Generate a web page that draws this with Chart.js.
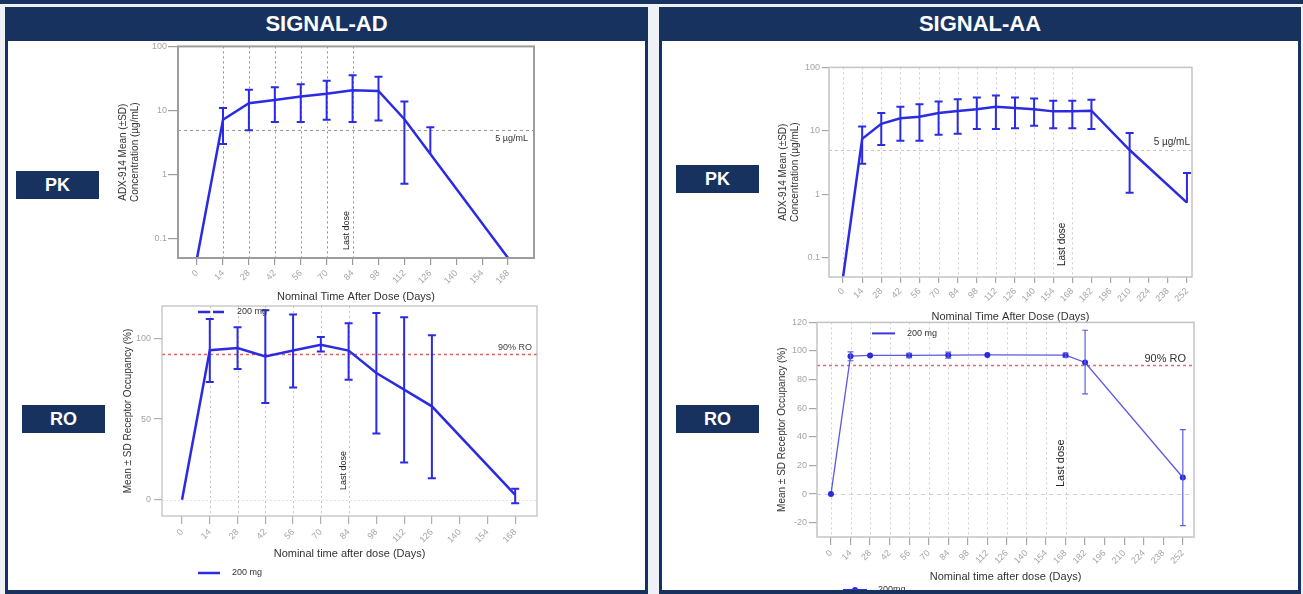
<!DOCTYPE html>
<html>
<head>
<meta charset="utf-8">
<title>SIGNAL-AD / SIGNAL-AA — PK and RO</title>
<script src="https://cdn.jsdelivr.net/npm/chart.js@4.4.1/dist/chart.umd.min.js"></script>
<style>
  html, body { margin: 0; padding: 0; }
  body { width: 1303px; height: 594px; overflow: hidden; position: relative; background: #eef2f7; font-family: "Liberation Sans", Arial, sans-serif; }
  .strip { position: absolute; left: 0; top: 0; width: 1303px; height: 4px; background: #17325f; }
  .panel { position: absolute; top: 7px; height: 600px; background: #17325f; }
  .panel .hd { height: 33px; line-height: 33px; color: #fff; font-weight: bold; font-size: 22px; text-align: center; }
  .panel .bd { position: absolute; left: 3px; right: 3px; top: 34px; height: 549px; background: #fff; }
  .tag { position: absolute; width: 83px; height: 28px; line-height: 28px; background: #17325f; color: #fff; font-weight: bold; font-size: 18px; text-align: center; }
  canvas { position: absolute; }
</style>
</head>
<body>
<div class="strip"></div>
<div class="panel" style="left:5px;width:643px"><div class="hd">SIGNAL-AD</div><div class="bd"></div></div>
<div class="panel" style="left:659px;width:642px"><div class="hd">SIGNAL-AA</div><div class="bd"></div></div>
<div class="tag" style="left:16px;top:171px">PK</div>
<div class="tag" style="left:22px;top:405px">RO</div>
<div class="tag" style="left:676px;top:165px">PK</div>
<div class="tag" style="left:676px;top:405px">RO</div>
<canvas id="adPk" width="450" height="268" style="left:110px;top:40px;width:450px;height:268px"></canvas>
<canvas id="adRo" width="450" height="294" style="left:110px;top:296px;width:450px;height:294px"></canvas>
<canvas id="aaPk" width="450" height="268" style="left:765px;top:60px;width:450px;height:268px"></canvas>
<canvas id="aaRo" width="450" height="275" style="left:765px;top:315px;width:450px;height:275px"></canvas>
<script>
const F = '"Liberation Sans", Arial, sans-serif';
Chart.defaults.font.family = F;
Chart.defaults.animation = false;

// ---- tick labels
const adXTicks = [0, 14, 28, 42, 56, 70, 84, 98, 112, 126, 140, 154, 168];
const aaXTicks = [0, 14, 28, 42, 56, 70, 84, 98, 112, 126, 140, 154, 168, 182, 196, 210, 224, 238, 252];
const pkYTicks = [0.1, 1, 10, 100];
const adRoYTicks = [0, 50, 100];
const aaRoYTicks = [-20, 0, 20, 40, 60, 80, 100, 120];

// ---- SIGNAL-AD PK (ug/mL, mean +/- SD)
const adPkDays = [0, 14, 28, 42, 56, 70, 84, 98, 112, 126, 168];
const adPkMean = [0.05, 7.2, 13, 14.6, 16.5, 18.2, 20.7, 20.2, 7.3, 2.1, 0.05];
const adPkLow  = [null, 3.0, 4.9, 6.6, 6.6, 7.2, 6.6, 7.0, 0.72, null, null];
const adPkHigh = [null, 10.9, 21, 23, 25.6, 29, 35.4, 33.7, 13.8, 5.5, null];

// ---- SIGNAL-AD RO (%)
const adRoDays = [0, 14, 28, 42, 56, 70, 84, 98, 112, 126, 168];
const adRoMean = [0, 92.6, 94, 88.8, 92.4, 96, 92.4, 78.5, 68.2, 57.9, 3.1];
const adRoLow  = [null, 72.9, 81, 59.9, 69.6, 91.9, 74.4, 41.1, 23.1, 13.4, -2.1];
const adRoHigh = [null, 112, 106.8, 117.4, 114.7, 100.8, 109.3, 115.7, 113, 101.9, 6.8];

// ---- SIGNAL-AA PK
const aaPkDays = [0, 14, 28, 42, 56, 70, 84, 98, 112, 126, 140, 154, 168, 182, 210, 252];
const aaPkMean = [0.05, 7.5, 12.9, 15.8, 16.7, 19.1, 20.5, 22, 24, 22.9, 22, 20.3, 20.3, 20.8, 5.0, 0.74];
const aaPkLow  = [null, 3.05, 6.0, 7.0, 7.0, 8.7, 9.0, 10.7, 10.7, 11, 12.1, 11, 11, 10.7, 1.06, null];
const aaPkHigh = [null, 11.7, 19.1, 24, 26.4, 29.1, 31.6, 33.6, 36, 33.6, 32.4, 29.8, 29.8, 30.9, 9.3, 2.18];

// ---- SIGNAL-AA RO
const aaRoDays = [0, 14, 28, 56, 84, 112, 168, 182, 252];
const aaRoMean = [0, 96.4, 96.9, 96.9, 97.1, 97.3, 97.1, 92.0, 11.6];
const aaRoLow  = [null, 93.2, null, 95.4, 95, null, 95.6, 70, -22];
const aaRoHigh = [null, 99.4, null, 98.4, 99.2, null, 98.6, 114.5, 45.1];

// ---- reference lines
const adGuides = [14, 28, 42, 56, 70, 84];
const aaGuides = [0, 14, 28, 42, 56, 70, 84, 98, 112, 126, 140, 154, 168];
const pkTarget = 5;
const roTarget = 90;
const adLastDose = 84;
const aaLastDose = 168;
const dose = '200 mg';

// draws guides, threshold lines, error bars, frame, notes and legends
function deco(o) {
  return {
    id: 'deco',
    beforeDatasetsDraw(chart) {
      const { ctx, chartArea: a } = chart;
      const x = chart.scales.x, y = chart.scales.y;
      ctx.save();
      ctx.beginPath(); ctx.rect(a.left, a.top, a.width, a.height); ctx.clip();
      const g = o.guides;
      ctx.strokeStyle = g.color; ctx.lineWidth = g.width; ctx.setLineDash(g.dash);
      g.at.forEach((v) => {
        const px = Math.round(x.getPixelForValue(v)) + 0.5;
        ctx.beginPath(); ctx.moveTo(px, a.top); ctx.lineTo(px, a.bottom); ctx.stroke();
      });
      o.hLines.forEach((h) => {
        const py = Math.round(y.getPixelForValue(h.at)) + 0.5;
        ctx.strokeStyle = h.color; ctx.lineWidth = h.width; ctx.setLineDash(h.dash);
        ctx.beginPath(); ctx.moveTo(a.left, py); ctx.lineTo(a.right, py); ctx.stroke();
      });
      ctx.restore();
    },
    afterDatasetsDraw(chart) {
      const { ctx, chartArea: a } = chart;
      const x = chart.scales.x, y = chart.scales.y;
      const e = o.err;
      ctx.save();
      ctx.beginPath(); ctx.rect(a.left, a.top - 1, a.width, a.height + 2); ctx.clip();
      ctx.strokeStyle = e.color; ctx.lineWidth = e.width; ctx.setLineDash([]);
      chart.data.datasets.forEach((ds) => {
        ds.data.forEach((p, i) => {
          const hi = ds.errHigh[i];
          if (hi == null) return;
          const lo = ds.errLow[i];
          const px = x.getPixelForValue(p.x);
          const yh = y.getPixelForValue(hi);
          const yl = y.getPixelForValue(lo == null ? p.y : lo);
          ctx.beginPath();
          ctx.moveTo(px, yh); ctx.lineTo(px, yl);
          ctx.moveTo(px - e.cap, yh); ctx.lineTo(px + e.cap, yh);
          if (lo != null) { ctx.moveTo(px - e.cap, yl); ctx.lineTo(px + e.cap, yl); }
          ctx.stroke();
        });
      });
      ctx.restore();

      ctx.save();
      ctx.strokeStyle = o.frame.color; ctx.lineWidth = o.frame.width;
      ctx.strokeRect(a.left, a.top, a.width, a.height);
      ctx.textAlign = 'right'; ctx.textBaseline = 'middle';
      o.hLines.forEach((h) => {
        if (!h.label) return;
        ctx.font = h.label.font; ctx.fillStyle = h.label.color;
        ctx.fillText(h.label.text, a.right - h.label.dx, y.getPixelForValue(h.at) + h.label.dy);
      });
      const l = o.lastDose;
      ctx.save();
      ctx.translate(x.getPixelForValue(l.at) + l.dx, a.bottom - l.up);
      ctx.rotate(-Math.PI / 2);
      ctx.font = l.font; ctx.fillStyle = '#222'; ctx.textAlign = 'left';
      ctx.fillText('Last dose', 0, 0);
      ctx.restore();
      o.legends.forEach((g) => {
        const py = (g.from === 'top' ? a.top : a.bottom) + g.dy;
        ctx.strokeStyle = g.color; ctx.lineWidth = g.width; ctx.setLineDash(g.dash || []);
        ctx.beginPath(); ctx.moveTo(a.left + g.x0, py); ctx.lineTo(a.left + g.x1, py); ctx.stroke();
        ctx.setLineDash([]);
        if (g.marker) {
          ctx.fillStyle = g.color;
          ctx.beginPath(); ctx.arc(a.left + (g.x0 + g.x1) / 2, py, g.marker, 0, Math.PI * 2); ctx.fill();
        }
        ctx.font = g.font; ctx.fillStyle = '#333'; ctx.textAlign = 'left';
        ctx.fillText(g.text, a.left + g.tx, py);
      });
      ctx.restore();
    },
  };
}

function makeChart(id, c) {
  return new Chart(document.getElementById(id), {
    type: 'line',
    data: {
      datasets: [{
        data: c.days.map((d, i) => ({ x: d, y: c.mean[i] })),
        errLow: c.low,
        errHigh: c.high,
        borderColor: c.line.color,
        borderWidth: c.line.width,
        pointRadius: c.line.radius,
        pointBackgroundColor: c.line.point || c.line.color,
        pointBorderWidth: 0,
        tension: 0,
        fill: false,
      }],
    },
    options: {
      responsive: false,
      animation: false,
      events: [],
      layout: { padding: { left: 0, top: c.pad.top, right: c.pad.right, bottom: 0 } },
      plugins: { legend: { display: false }, tooltip: { enabled: false } },
      scales: {
        x: {
          type: 'linear', min: c.x.min, max: c.x.max,
          afterBuildTicks: (s) => { s.ticks = c.x.ticks.map((v) => ({ value: v })); },
          afterFit: (s) => { s.height = c.x.height; },
          grid: { drawOnChartArea: false, drawTicks: true, tickLength: c.x.tickLen, color: c.tickColor, lineWidth: 1.2 },
          border: { display: false },
          ticks: { autoSkip: false, minRotation: 45, maxRotation: 45, padding: 3, color: '#a5a5a5', font: { size: 9 } },
          title: { display: true, text: 'Nominal ' + c.x.title, color: '#333', font: { size: 11 }, padding: { top: 0, bottom: c.x.titlePad } },
        },
        y: {
          type: c.y.type, min: c.y.min, max: c.y.max,
          afterBuildTicks: (s) => { s.ticks = c.y.ticks.map((v) => ({ value: v })); },
          afterFit: (s) => { s.width = c.y.width; },
          grid: { drawOnChartArea: false, drawTicks: true, tickLength: c.y.tickLen, color: c.tickColor, lineWidth: 1.2 },
          border: { display: false },
          ticks: { padding: c.y.gap, color: '#a5a5a5', font: { size: 9 }, callback: (v) => String(v) },
          title: { display: true, text: c.y.title, color: '#333', font: { size: 10 }, padding: { top: c.y.titlePad, bottom: 0 } },
        },
      },
    },
    plugins: [deco(c.deco)],
  });
}

const blue = '#2b2be3';
const pkTitle = ['ADX-914 Mean (±SD)', 'Concentration (µg/mL)'];
const roTitle = 'Mean ± SD Receptor Occupancy (%)';

makeChart('adPk', {
  days: adPkDays, mean: adPkMean, low: adPkLow, high: adPkHigh,
  line: { color: blue, width: 2.5, radius: 0 },
  pad: { top: 6, right: 26 },
  tickColor: '#9a9a9a',
  x: { min: -10.3, max: 182, ticks: adXTicks, height: 50, tickLen: 7, title: 'Time After Dose (Days)', titlePad: 4 },
  y: { type: 'logarithmic', min: 0.05, max: 100, ticks: pkYTicks, width: 68, tickLen: 10, gap: 1, title: pkTitle, titlePad: 7 },
  deco: {
    guides: { at: adGuides, color: '#8c8c8c', width: 1, dash: [2, 3] },
    hLines: [{ at: pkTarget, color: '#9a9a9a', width: 1, dash: [3, 3], label: { text: '5 µg/mL', dx: 6, dy: 9, font: '9px ' + F, color: '#333' } }],
    lastDose: { at: adLastDose, dx: -6, up: 8, font: '9px ' + F },
    frame: { color: '#9d9d9d', width: 2 },
    err: { color: blue, width: 2, cap: 4 },
    legends: [],
  },
});

makeChart('adRo', {
  days: adRoDays, mean: adRoMean, low: adRoLow, high: adRoHigh,
  line: { color: blue, width: 2.5, radius: 0 },
  pad: { top: 10, right: 23 },
  tickColor: '#b0b0b0',
  x: { min: -10.1, max: 179, ticks: adXTicks, height: 74, tickLen: 8, title: 'time after dose (Days)', titlePad: 29 },
  y: { type: 'linear', min: -10, max: 120, ticks: adRoYTicks, width: 52, tickLen: 8, gap: 3, title: roTitle, titlePad: 12 },
  deco: {
    guides: { at: adGuides, color: '#c4c4c4', width: 1, dash: [2, 3] },
    hLines: [
      { at: 0, color: '#e4e4e4', width: 1, dash: [2, 2] },
      { at: roTarget, color: '#e0605a', width: 1.5, dash: [3, 3], label: { text: '90% RO', dx: 5, dy: -7, font: '9px ' + F, color: '#444' } },
    ],
    lastDose: { at: adLastDose, dx: -5, up: 26, font: '9px ' + F },
    frame: { color: '#bdbdbd', width: 1.2 },
    err: { color: blue, width: 2, cap: 4 },
    legends: [
      { from: 'top', dy: 6, x0: 36, x1: 62, dash: [12, 3], color: blue, width: 2.5, tx: 75, text: dose, font: '9px ' + F },
      { from: 'bottom', dy: 57, x0: 36, x1: 58, color: blue, width: 2.5, tx: 70, text: dose, font: '9px ' + F },
    ],
  },
});

makeChart('aaPk', {
  days: aaPkDays, mean: aaPkMean, low: aaPkLow, high: aaPkHigh,
  line: { color: blue, width: 2.5, radius: 0 },
  pad: { top: 6, right: 23 },
  tickColor: '#a8a8a8',
  x: { min: -10.3, max: 255.7, ticks: aaXTicks, height: 51, tickLen: 6, title: 'Time After Dose (Days)', titlePad: 4 },
  y: { type: 'logarithmic', min: 0.05, max: 100, ticks: pkYTicks, width: 64, tickLen: 7, gap: 2, title: pkTitle, titlePad: 12 },
  deco: {
    guides: { at: aaGuides, color: '#cdcdcd', width: 1, dash: [2, 3] },
    hLines: [{ at: pkTarget, color: '#c4c4c4', width: 1, dash: [3, 3], label: { text: '5 µg/mL', dx: 2, dy: -8, font: '10px ' + F, color: '#333' } }],
    lastDose: { at: aaLastDose, dx: -10, up: 11, font: '10px ' + F },
    frame: { color: '#c4c4c4', width: 1.5 },
    err: { color: blue, width: 2, cap: 4 },
    legends: [],
  },
});

makeChart('aaRo', {
  days: aaRoDays, mean: aaRoMean, low: aaRoLow, high: aaRoHigh,
  line: { color: 'rgba(60,60,225,0.85)', width: 1.3, radius: 3, point: '#2a2ad8' },
  pad: { top: 6, right: 21 },
  tickColor: '#a8a8a8',
  x: { min: -10, max: 260, ticks: aaXTicks, height: 53, tickLen: 8, title: 'time after dose (Days)', titlePad: 6 },
  y: { type: 'linear', min: -30, max: 120, ticks: aaRoYTicks, width: 52, tickLen: 8, gap: 2, title: roTitle, titlePad: 11 },
  deco: {
    guides: { at: aaGuides, color: '#d0d0d0', width: 1, dash: [2, 3] },
    hLines: [
      { at: 0, color: '#cfcfcf', width: 1, dash: [4, 4] },
      { at: roTarget, color: '#e06a6a', width: 1.5, dash: [3, 3], label: { text: '90% RO', dx: 8, dy: -6, font: '11px ' + F, color: '#333' } },
    ],
    lastDose: { at: aaLastDose, dx: -4.5, up: 50, font: '11px ' + F },
    frame: { color: '#c4c4c4', width: 1.5 },
    err: { color: '#5c5ce8', width: 1.2, cap: 3 },
    legends: [
      { from: 'top', dy: 11, x0: 55, x1: 78, color: '#3a3ae0', width: 2, tx: 90, text: dose, font: '9px ' + F },
      { from: 'bottom', dy: 53, x0: 26, x1: 50, color: '#3030dd', width: 2, marker: 3, tx: 61, text: '200mg', font: '9px ' + F },
    ],
  },
});
</script>
</body>
</html>
